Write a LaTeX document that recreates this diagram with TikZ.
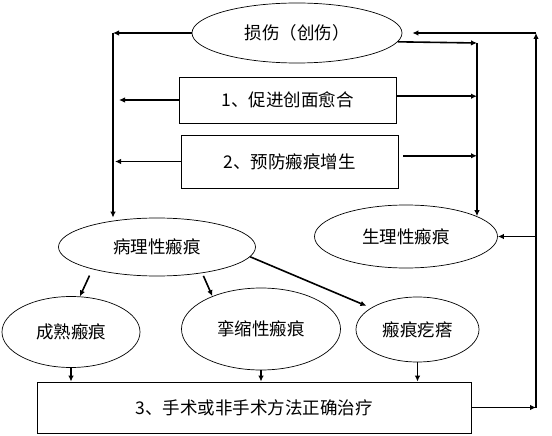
\documentclass[tikz,border=0pt]{standalone}
\usepackage{fontspec}
\newfontfamily\cjk{Noto Sans CJK SC}
\usetikzlibrary{shapes.geometric,arrows.meta}

\begin{document}
\begin{tikzpicture}[x=1pt,y=-1pt,
  oval/.style={ellipse,draw,line width=0.7pt,inner sep=0pt,font=\cjk\fontsize{17.5}{20}\selectfont},
  box/.style={rectangle,draw,line width=0.7pt,inner sep=0pt,font=\cjk\fontsize{17.5}{20}\selectfont},
  arr/.style={line width=1.6pt,-{Latex[length=6pt,width=5.5pt]}}]
\useasboundingbox (0,0) rectangle (552,436);

\node[oval,minimum width=210pt,minimum height=60pt] (injury) at (297,33) {损伤（创伤）};
\node[box,minimum width=217pt,minimum height=46pt] (promote) at (287.5,100) {1、促进创面愈合};
\node[box,minimum width=217pt,minimum height=53pt] (prevent) at (289.5,161.5) {2、预防瘢痕增生};
\node[oval,minimum width=197pt,minimum height=58pt] (patho) at (157,247) {病理性瘢痕};
\node[oval,minimum width=183pt,minimum height=63pt] (physio) at (406,236.5) {生理性瘢痕};
\node[oval,minimum width=138pt,minimum height=71pt] (mature) at (71,332) {成熟瘢痕};
\node[oval,minimum width=159pt,minimum height=82pt] (contract) at (261,329) {挛缩性瘢痕};
\node[oval,minimum width=123pt,minimum height=65pt] (keloid) at (417.5,329.5) {瘢痕疙瘩};
\node[box,minimum width=434pt,minimum height=51pt] (treat) at (254,407.5) {3、手术或非手术方法正确治疗};

\coordinate (lt) at (113,33);
\coordinate (rt) at (477,43);
\coordinate (ft) at (536,33);

\draw[arr] (injury.west) -- (lt);
\draw[arr] (lt) -- (lt |- patho.north);
\draw[arr,shorten >=6pt] (promote.west) -- (lt |- promote.west);
\draw[arr,shorten >=2pt] (prevent.west) -- (lt |- prevent.west);

\draw[arr] (injury.-5) -- (rt);
\draw[arr] (rt) -- (rt |- physio.16);
\draw[arr] (promote.2) -- (rt |- promote.2);
\draw[arr,shorten <=5pt] (prevent.3) -- (rt |- prevent.3);

\draw[arr] (treat.east) -- (treat.east -| ft);
\draw[arr] (treat.east -| ft) -- (ft);
\draw[arr,shorten >=10pt] (ft) -- (injury.east);
\draw[arr] (ft |- physio.east) -- (physio.east);

\draw[arr,shorten <=7pt] (patho.199) -- (mature.76);
\draw[arr,shorten <=3pt] (patho.-30) -- (contract.146);
\draw[arr,shorten >=5pt] (patho.-6) -- (keloid.155);

\draw[arr] (mature.south) -- (mature.south |- treat.north);
\draw[arr] (contract.south) -- (contract.south |- treat.north);
\draw[arr] (keloid.south) -- (keloid.south |- treat.north);

\end{tikzpicture}
\end{document}
